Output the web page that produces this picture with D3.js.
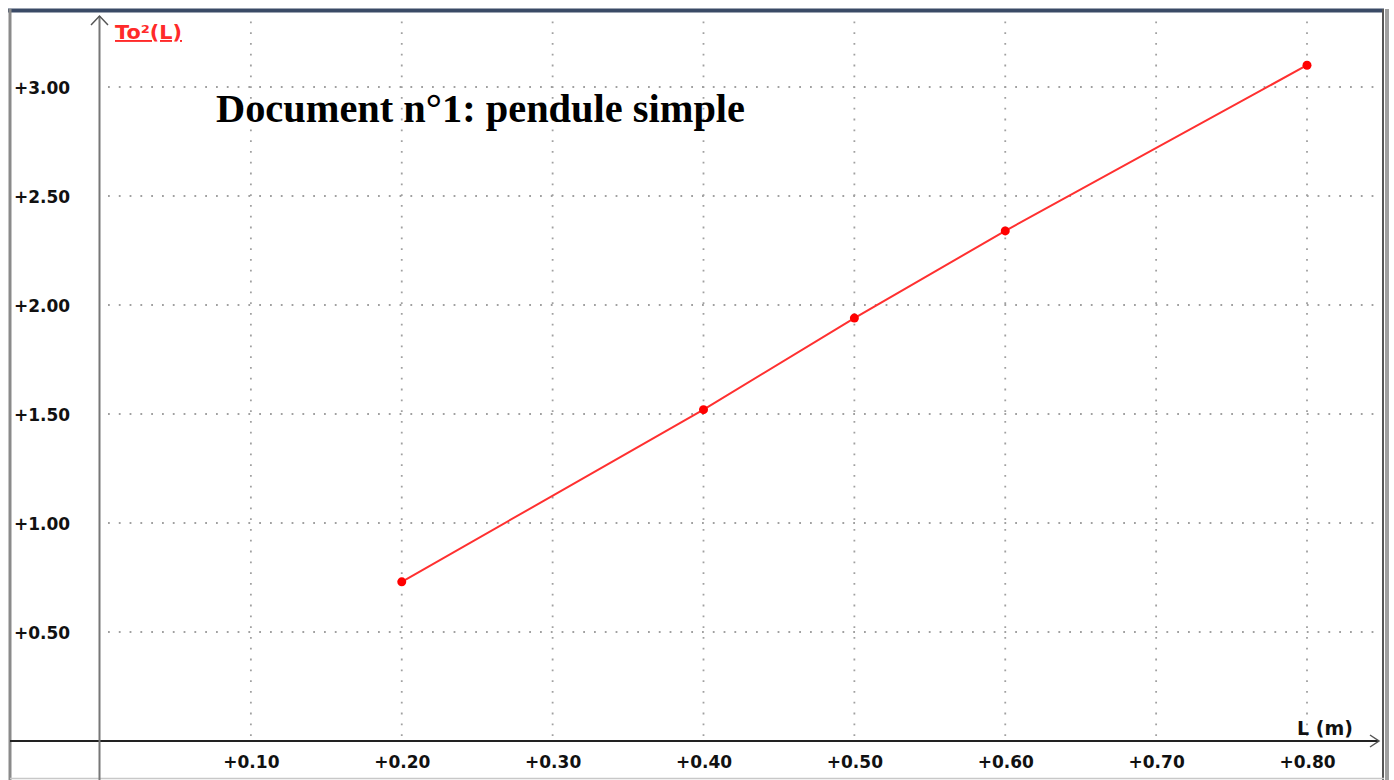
<!DOCTYPE html>
<html><head><meta charset="utf-8">
<script src="https://cdn.jsdelivr.net/npm/d3@7"></script>
<style>html,body{margin:0;padding:0;background:#fff;overflow:hidden}</style>
</head><body>
<script>
const lengths = [0.20, 0.40, 0.50, 0.60, 0.80];
const periodSquared = [0.73, 1.52, 1.94, 2.34, 3.10];
const xTicks = [0.10, 0.20, 0.30, 0.40, 0.50, 0.60, 0.70, 0.80];
const yTicks = [0.50, 1.00, 1.50, 2.00, 2.50, 3.00];
const titleText = "Document n°1: pendule simple";
const yLabel = "To²(L)";
const xLabel = "L (m)";

const W = 1394, H = 780;
const svg = d3.select("body").append("svg").attr("width", W).attr("height", H);
const x = d3.scaleLinear().domain([0, 0.8]).range([100, 1307]);
const y = d3.scaleLinear().domain([0, 3]).range([741, 87]);
const fmt = v => "+" + v.toFixed(2);
const labelFont = "DejaVu Sans, Verdana, sans-serif";

// frame
svg.append("rect").attr("x", 0).attr("y", 0).attr("width", W).attr("height", H).attr("fill", "#fff");
svg.append("line").attr("x1", 8).attr("x2", 1384).attr("y1", 10.5).attr("y2", 10.5).attr("stroke", "#3a4a66").attr("stroke-width", 4);
svg.append("line").attr("x1", 10).attr("x2", 10).attr("y1", 9).attr("y2", 780).attr("stroke", "#8a8a8a").attr("stroke-width", 3);
svg.append("line").attr("x1", 1383).attr("x2", 1383).attr("y1", 9).attr("y2", 780).attr("stroke", "#555").attr("stroke-width", 2);
svg.append("line").attr("x1", 1387).attr("x2", 1387).attr("y1", 9).attr("y2", 780).attr("stroke", "#a0a0a0").attr("stroke-width", 4);
svg.append("line").attr("x1", 10).attr("x2", 1384).attr("y1", 778.5).attr("y2", 778.5).attr("stroke", "#c8c8c8").attr("stroke-width", 1.5);

// grid
const grid = svg.append("g").attr("stroke", "#a0a0a0").attr("stroke-width", 1.8).attr("stroke-dasharray", "1.8 9");
grid.selectAll("line.v").data(xTicks).join("line").attr("class", "v")
  .attr("x1", d => x(d)).attr("x2", d => x(d)).attr("y1", 736).attr("y2", 13);
grid.selectAll("line.h").data(yTicks).join("line").attr("class", "h")
  .attr("x1", 108).attr("x2", 1376).attr("y1", d => y(d)).attr("y2", d => y(d));

// axes
const xAxis = d3.axisBottom(x).tickValues(xTicks).tickSize(0).tickFormat(fmt);
const gx = svg.append("g").attr("transform", "translate(0,741)").call(xAxis);
gx.select(".domain").remove();
gx.selectAll("text").attr("dy", 0).attr("y", 27)
  .attr("font-family", labelFont).attr("font-weight", "bold").attr("font-size", 17).attr("fill", "#111");
svg.append("line").attr("x1", 10).attr("x2", 1379).attr("y1", 741).attr("y2", 741).attr("stroke", "#222").attr("stroke-width", 2);
svg.append("path").attr("d", "M1370,735 L1379,741 L1370,747").attr("fill", "none").attr("stroke", "#555").attr("stroke-width", 1.5);

const yAxis = d3.axisLeft(y).tickValues(yTicks).tickSize(0).tickFormat(fmt);
const gy = svg.append("g").call(yAxis);
gy.select(".domain").remove();
gy.selectAll("text").attr("x", 14).attr("text-anchor", "start").attr("dy", "0.36em")
  .attr("font-family", labelFont).attr("font-weight", "bold").attr("font-size", 17).attr("fill", "#111");
svg.append("line").attr("x1", 99.5).attr("x2", 99.5).attr("y1", 16).attr("y2", 780).attr("stroke", "#777").attr("stroke-width", 2);
svg.append("path").attr("d", "M91,25 L99.5,16 L108,25").attr("fill", "none").attr("stroke", "#555").attr("stroke-width", 1.5);

// labels
svg.append("text").attr("x", 115).attr("y", 39).text(yLabel)
  .attr("font-family", labelFont).attr("font-weight", "bold").attr("font-size", 19)
  .attr("textLength", 67).attr("lengthAdjust", "spacingAndGlyphs")
  .attr("fill", "#ff2a2a").attr("text-decoration", "underline");
svg.append("text").attr("x", 1353).attr("y", 735).attr("text-anchor", "end").text(xLabel)
  .attr("font-family", labelFont).attr("font-weight", "bold").attr("font-size", 19).attr("fill", "#111");
svg.append("text").attr("x", 216).attr("y", 122).text(titleText)
  .attr("font-family", "Liberation Serif, Times New Roman, serif").attr("font-weight", "bold").attr("font-size", 39)
  .attr("textLength", 529).attr("lengthAdjust", "spacingAndGlyphs").attr("fill", "#000");

// data
const pts = lengths.map((l, i) => [l, periodSquared[i]]);
svg.append("path").datum(pts)
  .attr("d", d3.line().x(d => x(d[0])).y(d => y(d[1])))
  .attr("fill", "none").attr("stroke", "#ff3030").attr("stroke-width", 2);
svg.selectAll("circle.pt").data(pts).join("circle").attr("class", "pt")
  .attr("cx", d => x(d[0])).attr("cy", d => y(d[1])).attr("r", 4.5).attr("fill", "#ff0000");
</script>
</body></html>
